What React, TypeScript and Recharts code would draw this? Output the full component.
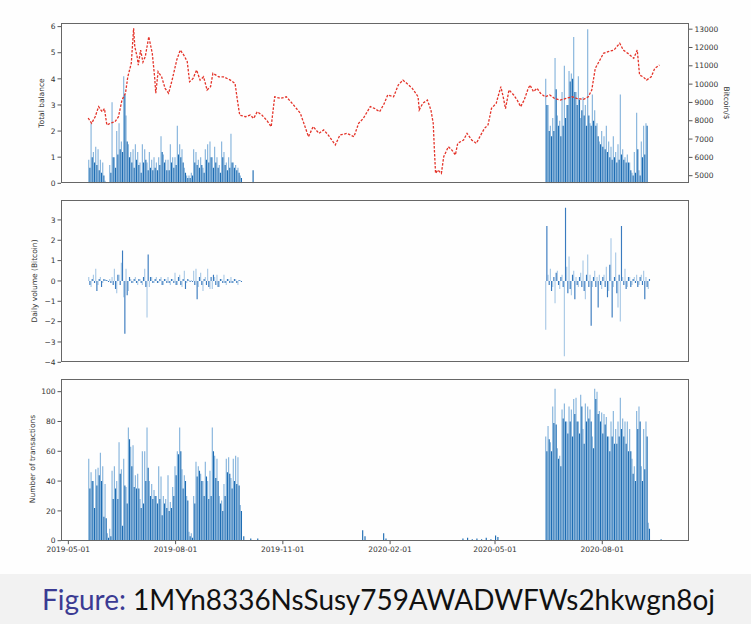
import React from 'react'
import { ComposedChart, Bar, Line, XAxis, YAxis } from 'recharts'

// day numbers count from 2019-05-01
const START = Date.UTC(2019, 4, 1)
const DAY = 86400000
const dayOf = (s: string) => (Date.parse(s) - START) / DAY
const fmtDay = (d: number) => new Date(START + Math.round(d) * DAY).toISOString().slice(0, 10)

const dateTicks = ['2019-05-01', '2019-08-01', '2019-11-01', '2020-02-01', '2020-05-01', '2020-08-01']

// total balance (bitcoin), two-day steps
const balanceAStart = 18
const balanceALight = [0.9, 2.3, 1.2, 1.4, 1.3, 0.9, 0.8, 0.1, 0.05, 0.7,
  3.1, 1.0, 2.0, 2.3, 1.6, 4.1, 2.6, 1.5, 1.2, 1.3,
  1.5, 1.2, 0.8, 1.5, 1.3, 0.8, 1.2, 0.9, 1.0, 0.8,
  1.0, 1.8, 1.1, 0.9, 0.9, 1.5, 1.0, 1.0, 2.2, 1.5,
  1.3, 0.6, 0.3, 0.3, 0.4, 1.3, 1.2, 0.9, 1.0, 0.6,
  1.3, 1.5, 1.6, 1.0, 1.4, 1.0, 0.7, 1.6, 1.2, 0.8,
  1.0, 1.9, 0.8, 0.7, 0.6, 0.3]
const balanceADark = [0.6, 1.0, 0.8, 0.7, 0.5, 0.4, 0.3, 0.05, 0.02, 0.4,
  1.0, 0.6, 1.1, 1.3, 1.2, 3.4, 1.6, 1.0, 0.8, 0.6,
  0.9, 0.7, 0.4, 0.8, 0.9, 0.5, 0.6, 0.5, 0.6, 0.5,
  0.7, 1.2, 0.8, 0.5, 0.5, 0.8, 0.6, 0.7, 1.1, 1.0,
  0.8, 0.4, 0.2, 0.2, 0.3, 0.8, 0.7, 0.6, 0.7, 0.4,
  0.9, 0.8, 1.0, 0.6, 0.8, 0.6, 0.4, 1.0, 0.7, 0.5,
  0.6, 0.8, 0.6, 0.5, 0.4, 0.2]
const balanceBStart = 410
const balanceBLight = [4.0, 3.0, 2.2, 2.5, 4.8, 2.6, 2.4, 3.5, 4.5, 3.0,
  4.3, 4.2, 5.6, 3.5, 4.1, 2.5, 3.3, 3.0, 5.9, 2.3,
  3.4, 2.8, 2.3, 1.6, 2.0, 1.8, 2.2, 1.6, 1.4, 1.8,
  1.2, 1.5, 3.4, 1.3, 1.0, 1.1, 0.8, 0.4, 1.2, 2.7,
  0.5, 1.6, 2.2, 2.3]
const balanceBDark = [3.0, 2.0, 1.8, 2.0, 3.6, 2.2, 1.8, 2.2, 2.5, 3.0,
  3.9, 4.0, 3.5, 3.0, 3.2, 2.8, 2.6, 2.2, 2.6, 2.2,
  2.4, 2.2, 1.8, 1.5, 1.4, 1.3, 1.2, 1.0, 0.9, 1.0,
  0.8, 0.9, 1.1, 0.9, 0.8, 0.8, 0.5, 0.3, 0.4, 1.3,
  0.3, 1.0, 1.1, 2.2]
const balanceExtraDays = [158]
const balanceExtraValues = [0.5]

// bitcoin price in $
const priceDays = [17, 20, 23, 26, 29, 31, 33, 36, 40, 43,
  46, 49, 51, 54, 56, 57, 59, 60, 62, 64,
  66, 69, 72, 74, 75, 77, 80, 83, 86, 89,
  93, 96, 99, 102, 104, 107, 110, 113, 116, 119,
  122, 124, 129, 133, 139, 143, 145, 147, 152, 156,
  159, 162, 166, 170, 174, 177, 182, 187, 192, 199,
  206, 210, 215, 219, 223, 229, 233, 239, 245, 249,
  253, 259, 263, 267, 271, 274, 279, 283, 287, 292,
  295, 300, 301, 304, 308, 311, 313, 314, 315, 317,
  320, 322, 326, 329, 332, 334, 339, 342, 346, 350,
  353, 357, 360, 363, 367, 371, 373, 375, 378, 382,
  385, 388, 391, 394, 396, 399, 402, 405, 409, 413,
  417, 422, 427, 432, 436, 442, 446, 449, 452, 456,
  459, 463, 468, 473, 476, 480, 485, 488, 490, 493,
  496, 500, 503, 507]
const priceUsd = [8150, 7860, 8220, 8770, 8490, 8660, 7770, 7860, 7950, 8220,
  9130, 9500, 10400, 11140, 13050, 12040, 11500, 11040, 11860, 11200,
  11500, 12590, 11680, 10400, 9500, 10680, 10400, 9770, 9500, 10220,
  11320, 11860, 11590, 11230, 10130, 10310, 10770, 10220, 10400, 9680,
  9860, 10590, 10400, 10400, 10220, 10040, 9130, 8310, 8220, 8310,
  8130, 8490, 8310, 8040, 7680, 9310, 9220, 9310, 8950, 8410,
  7130, 7680, 7310, 7500, 7220, 6680, 7220, 7310, 7130, 7860,
  8130, 8770, 8660, 8490, 8950, 9410, 9310, 9950, 10220, 9950,
  9770, 9310, 8590, 8950, 9130, 8590, 7860, 6400, 5130, 5310,
  5130, 6040, 6580, 6400, 6130, 6770, 6950, 7310, 6950, 6770,
  7130, 7590, 7770, 8680, 8950, 9860, 9310, 8660, 9680, 9410,
  9130, 8770, 9130, 9680, 9950, 9590, 9770, 9500, 9310, 9410,
  9220, 9130, 9220, 9310, 9220, 9170, 9310, 9680, 10860, 11320,
  11680, 11770, 11860, 12230, 11860, 11680, 11410, 11860, 10500, 10400,
  10220, 10400, 10860, 11040]

// daily volume (bitcoin)
const volumeAStart = 18
const volumeALight = [0.2, -0.3, 0.3, 0.6, -0.2, 0.2, -0.1, 0.1, 0.05, 0.1,
  0.2, 0.6, -0.6, 0.3, 0.9, -0.8, 0.6, -0.5, 0.1, -0.1,
  0.2, -0.2, 0.1, -0.2, 0.6, -1.8, -0.3, 0.2, -0.1, 0.2,
  -0.1, 0.2, -0.2, 0.1, 0.2, -0.2, 0.1, 0.4, -0.2, 0.3,
  -0.3, 0.5, -0.1, 0.05, 0.05, 0.5, 0.6, -0.3, 0.4, -0.5,
  0.2, 0.6, -0.4, -0.4, 0.2, 0.3, -0.3, 0.1, 0.3, -0.2,
  0.1, 0.2, -0.1, 0.1, -0.2, 0.05]
const volumeADark = [-0.2, 0.1, -0.1, -0.5, 0.1, -0.3, 0.1, 0.05, -0.05, -0.1,
  -0.2, -0.4, 0.3, -0.2, 1.5, -2.6, -0.7, 0.2, -0.1, 0.1,
  -0.1, 0.1, -0.1, 0.2, -0.3, 1.3, 0.2, -0.1, 0.1, -0.1,
  0.1, -0.2, 0.1, -0.1, -0.1, 0.1, -0.1, -0.2, 0.2, -0.2,
  0.1, -0.4, 0.1, -0.05, -0.05, -0.2, -0.9, 0.2, -0.2, 0.1,
  -0.2, -0.3, 0.2, 0.3, -0.2, -0.3, 0.1, -0.1, -0.1, 0.1,
  -0.1, -0.1, 0.1, -0.1, 0.05, -0.05]
const volumeBStart = 410
const volumeBLight = [-2.4, 0.3, 0.6, -0.3, -1.1, 0.5, -0.4, 0.3, -3.7, 0.7,
  1.2, -0.7, 0.5, 0.2, -0.3, 0.4, 1.0, -0.9, 1.3, 0.3,
  -0.3, 0.5, 0.2, 0.3, -0.4, 0.3, 0.7, -0.5, 2.1, -0.3,
  1.4, -1.3, -2.0, 0.2, 0.6, -0.3, 0.2, -0.2, 0.2, 0.3,
  -0.2, 0.3, 0.5, 0.2, -0.4]
const volumeBDark = [2.7, -0.2, -0.5, 0.2, 0.4, -0.2, 0.2, -0.3, 3.6, -0.6,
  -0.4, 0.3, -0.9, -0.2, 0.2, -0.3, -0.5, 0.3, -0.3, -2.2,
  0.2, -0.3, -1.3, -0.2, 0.2, -0.3, -0.8, 0.8, -1.8, 0.2,
  -0.6, 0.3, 2.7, -0.2, -0.4, 0.2, -0.3, 0.1, -0.1, -0.3,
  0.2, -0.2, -0.9, -0.3, 0.1]

// number of transactions
const txAStart = 18
const txALight = [55, 46, 40, 48, 49, 59, 50, 38, 5, 8,
  47, 50, 40, 66, 48, 55, 36, 76, 63, 64,
  44, 45, 28, 60, 60, 76, 40, 38, 34, 30,
  50, 43, 30, 28, 44, 26, 36, 50, 60, 76,
  48, 44, 30, 6, 5, 30, 53, 50, 45, 40,
  53, 40, 47, 76, 57, 55, 30, 27, 38, 55,
  56, 42, 55, 57, 56, 24]
const txADark = [35, 40, 22, 37, 44, 40, 16, 15, 2, 3,
  28, 35, 28, 45, 10, 37, 25, 68, 50, 36,
  35, 35, 22, 25, 40, 49, 30, 28, 30, 25,
  28, 17, 25, 22, 20, 22, 30, 44, 58, 60,
  35, 40, 27, 3, 2, 25, 43, 47, 40, 30,
  43, 28, 30, 60, 42, 40, 25, 20, 30, 46,
  45, 35, 40, 38, 37, 20]
const txBStart = 410
const txBLight = [70, 77, 66, 90, 102, 62, 57, 88, 92, 80,
  90, 88, 95, 96, 80, 98, 75, 92, 90, 88,
  70, 102, 100, 87, 86, 85, 83, 70, 80, 87,
  75, 80, 96, 82, 80, 80, 75, 55, 50, 87,
  90, 50, 75, 80, 12]
const txBDark = [60, 68, 60, 79, 78, 55, 50, 82, 80, 72,
  80, 70, 85, 80, 72, 90, 65, 80, 82, 80,
  62, 95, 85, 80, 72, 78, 70, 60, 70, 65,
  65, 70, 75, 70, 65, 60, 60, 45, 40, 75,
  80, 40, 48, 70, 8]
const txExtraDays = [150, 156, 162, 186, 252, 254, 270, 272, 338, 342, 346, 350, 354, 358, 362, 366, 368, 508]
const txExtraValues = [3, 1.5, 1.5, 0.5, 7, 3, 5, 1.5, 1.5, 2, 1, 1.5, 1, 2, 1, 3.5, 2.5, 1]

type Row = { day: number; light?: number; dark?: number }

const run = (start: number, light: number[], dark: number[]): Row[] =>
  light.map((v, i) => ({ day: start + 2 * i, light: v, dark: dark[i] }))
const extra = (days: number[], vals: number[]): Row[] =>
  days.map((d, i) => ({ day: d, dark: vals[i] }))
const byDay = (rows: Row[]) => rows.sort((a, b) => a.day - b.day)

const balanceData = byDay([
  ...run(balanceAStart, balanceALight, balanceADark),
  ...extra(balanceExtraDays, balanceExtraValues),
  ...run(balanceBStart, balanceBLight, balanceBDark),
])
const volumeData = byDay([
  ...run(volumeAStart, volumeALight, volumeADark),
  ...run(volumeBStart, volumeBLight, volumeBDark),
])
const txData = byDay([
  ...run(txAStart, txALight, txADark),
  ...extra(txExtraDays, txExtraValues),
  ...run(txBStart, txBLight, txBDark),
])
const priceData = priceDays.map((d, i) => ({ day: d, price: priceUsd[i] }))

const W = 751
const H = 624
const PL = 61
const PR = 689
const xTicks = dateTicks.map(dayOf)
const xDomain: [number, number] = [-6.3, 532.4]

const FONT = 'DejaVu Sans'
const tickStyle = { fontSize: 7.5, fill: '#333', fontFamily: FONT }
const lineStyle = { stroke: '#555', strokeWidth: 1 }
const fmtNum = (v: number) => (v < 0 ? '\u2212' + Math.abs(v) : String(v))

const abs: React.CSSProperties = { position: 'absolute', left: 0, top: 0 }

interface PanelProps {
  data: Row[]
  top: number
  bottom: number
  yDomain: [number, number]
  yTicks: number[]
  light: string
  dark: string
  dates?: boolean
}

// two bars per two-day step, sized so they stay under the band width
const BAR = 1.15

const BarPanel: React.FC<PanelProps> = ({ data, top, bottom, yDomain, yTicks, light, dark, dates }) => {
  const xh = dates ? 20 : 8
  return (
    <div style={abs}>
      <ComposedChart
        width={W}
        height={H}
        data={data}
        barGap={0}
        margin={{ top, right: W - PR, left: 0, bottom: H - bottom - xh }}
      >
        <XAxis
          type="number"
          dataKey="day"
          domain={xDomain}
          ticks={xTicks}
          interval={0}
          allowDataOverflow
          tickFormatter={fmtDay}
          tick={dates ? tickStyle : false}
          height={xh}
          axisLine={false}
          tickLine={lineStyle}
          tickSize={3.5}
          tickMargin={2}
        />
        <YAxis
          width={PL}
          domain={yDomain}
          ticks={yTicks}
          interval={0}
          allowDataOverflow
          tickFormatter={fmtNum}
          tick={tickStyle}
          axisLine={false}
          tickLine={lineStyle}
          tickSize={3.5}
          tickMargin={2}
        />
        <Bar dataKey="light" fill={light} barSize={BAR} isAnimationActive={false} />
        <Bar dataKey="dark" fill={dark} barSize={BAR} isAnimationActive={false} />
      </ComposedChart>
    </div>
  )
}

const Frame: React.FC<{ top: number; bottom: number }> = ({ top, bottom }) => (
  <div
    style={{
      position: 'absolute',
      left: PL,
      top,
      width: PR - PL,
      height: bottom - top,
      border: '1px solid #666',
      boxSizing: 'border-box',
    }}
  />
)

const P1: [number, number] = [22.7, 183.3]
const P2: [number, number] = [200, 362.3]
const P3: [number, number] = [379, 540.7]

export default function App() {
  return (
    <div style={{ position: 'absolute', left: 0, top: 0, width: W, height: H, background: '#fefefe', overflow: 'hidden' }}>
      <svg width={W} height={H} style={abs}>
        <rect x={0} y={574} width={W} height={H - 574} fill="#f2f2f2" />
        <g fontFamily={FONT} fontSize={7.5} fill="#333" textAnchor="middle">
          <text transform="translate(44,103) rotate(-90)">Total balance</text>
          <text transform="translate(724,103) rotate(90)">Bitcoin/$</text>
          <text transform="translate(37,281) rotate(-90)">Daily volume (Bitcoin)</text>
          <text transform="translate(35,459) rotate(-90)">Number of transactions</text>
        </g>
        <text x={42} y={610} fontSize={29} fontFamily="Lato" textLength={673} lengthAdjust="spacingAndGlyphs">
          <tspan fill="#3b3b93">Figure:</tspan>
          <tspan fill="#111"> 1MYn8336NsSusy759AWADWFWs2hkwgn8oj</tspan>
        </text>
      </svg>

      <BarPanel
        data={balanceData}
        top={P1[0]}
        bottom={P1[1]}
        yDomain={[0, 6.15]}
        yTicks={[0, 1, 2, 3, 4, 5, 6]}
        light="#86b4dc"
        dark="#1f6db3"
      />
      <div style={abs}>
        <ComposedChart
          width={W}
          height={H}
          data={priceData}
          margin={{ top: P1[0], right: 0, left: PL, bottom: H - P1[1] }}
        >
          <XAxis type="number" dataKey="day" domain={xDomain} allowDataOverflow hide />
          <YAxis
            orientation="right"
            width={W - PR}
            domain={[4585, 13354]}
            ticks={[5000, 6000, 7000, 8000, 9000, 10000, 11000, 12000, 13000]}
            interval={0}
            allowDataOverflow
            tick={tickStyle}
            axisLine={false}
            tickLine={lineStyle}
            tickSize={3.5}
            tickMargin={2}
          />
          <Line
            dataKey="price"
            type="linear"
            stroke="#e4342a"
            strokeWidth={1.3}
            strokeDasharray="2.5 1.5"
            dot={false}
            isAnimationActive={false}
          />
        </ComposedChart>
      </div>

      <BarPanel
        data={volumeData}
        top={P2[0]}
        bottom={P2[1]}
        yDomain={[-4, 3.98]}
        yTicks={[-4, -3, -2, -1, 0, 1, 2, 3]}
        light="#a9c9e6"
        dark="#3a7bbf"
      />
      <BarPanel
        data={txData}
        top={P3[0]}
        bottom={P3[1]}
        yDomain={[0, 108.5]}
        yTicks={[0, 20, 40, 60, 80, 100]}
        light="#86b4dc"
        dark="#1f6db3"
        dates
      />

      <Frame top={P1[0]} bottom={P1[1]} />
      <Frame top={P2[0]} bottom={P2[1]} />
      <Frame top={P3[0]} bottom={P3[1]} />
    </div>
  )
}
